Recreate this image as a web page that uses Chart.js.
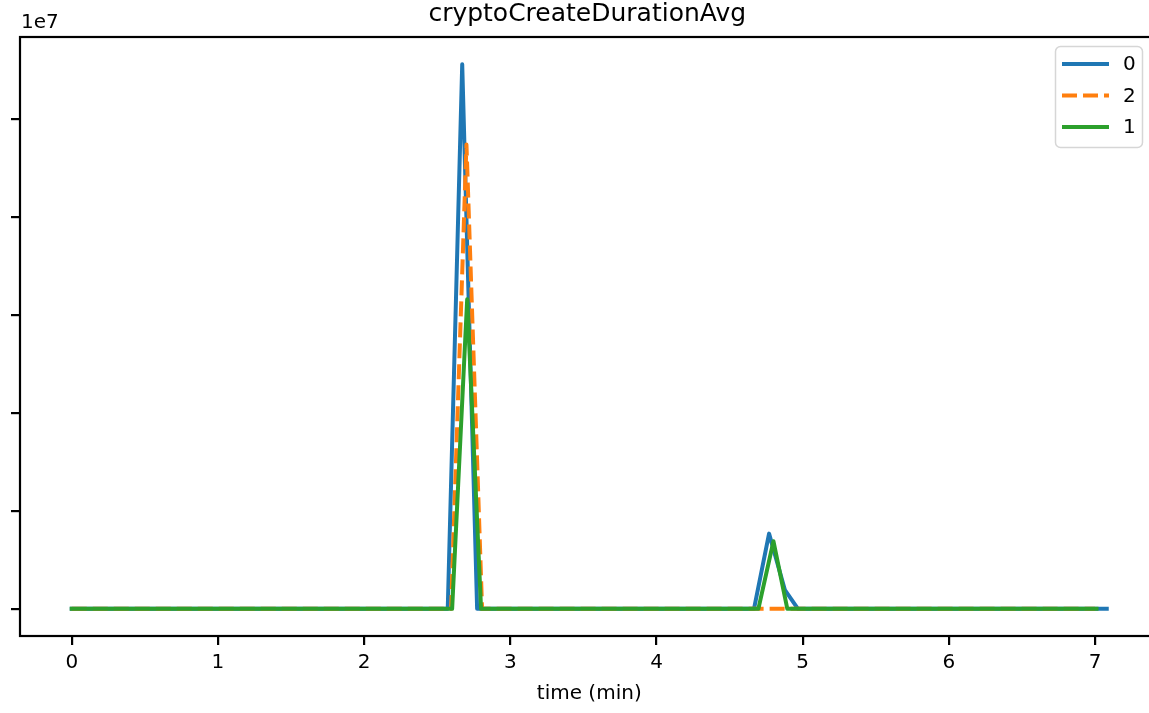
<!DOCTYPE html>
<html>
<head>
<meta charset="utf-8">
<script src="https://cdn.jsdelivr.net/npm/chart.js@4.4.1/dist/chart.umd.min.js"></script>
<style>
  html, body { margin: 0; padding: 0; background: #fff; overflow: hidden; }
  canvas { display: block; }
</style>
</head>
<body>
<canvas id="chart" width="1175" height="713"></canvas>
<script>
const chartTitle = 'cryptoCreateDurationAvg';
const xTitle = 'time (min)';
const offsetText = '1e7';
const xTicks = [0, 1, 2, 3, 4, 5, 6, 7];
const yTicks = [0, 1, 2, 3, 4, 5];

// time in minutes, values in units of 1e7
const seriesLabels = ['0', '2', '1'];
const seriesColors = ['#1f77b4', '#ff7f0e', '#2ca02c'];
const times0 = [0, 2.572, 2.671, 2.773, 4.667, 4.770, 4.879, 4.968, 7.08];
const values0 = [0, 0, 5.56, 0, 0, 0.768, 0.19, 0, 0];
const times2 = [0, 2.595, 2.700, 2.807, 7.0];
const values2 = [0, 0, 4.74, 0, 0];
const times1 = [0, 2.602, 2.705, 2.800, 4.697, 4.800, 4.895, 7.01];
const values1 = [0, 0, 3.16, 0, 0, 0.69, 0, 0];

const xMin = -0.354, xMax = 7.434;
const yMin = -0.2775, yMax = 5.8375;

const FONT = "'DejaVu Sans', sans-serif";

function pts(ts, vs) {
  return ts.map((t, i) => ({ x: t, y: vs[i] }));
}

// frame, offset text, title and legend in the matplotlib style
const extras = {
  id: 'extras',
  afterDatasetsDraw(chart) {
    const { ctx, chartArea: a } = chart;
    ctx.save();
    ctx.strokeStyle = '#000';
    ctx.lineWidth = 2.2;
    ctx.strokeRect(a.left, a.top, a.right - a.left, a.bottom - a.top);

    ctx.fillStyle = '#000';
    ctx.font = '20px ' + FONT;
    ctx.textAlign = 'left';
    ctx.textBaseline = 'alphabetic';
    ctx.fillText(offsetText, a.left + 1, 28);

    ctx.font = '25px ' + FONT;
    ctx.textAlign = 'center';
    ctx.fillText(chartTitle, (a.left + a.right) / 2 - 2, 21);

    // legend
    const lx = 1055.5, ly = 46.5, lw = 87, lh = 101;
    ctx.beginPath();
    ctx.roundRect(lx, ly, lw, lh, 5);
    ctx.fillStyle = 'rgba(255,255,255,0.8)';
    ctx.fill();
    ctx.strokeStyle = '#d6d6d6';
    ctx.lineWidth = 1.5;
    ctx.stroke();
    chart.data.datasets.forEach((ds, i) => {
      const y = 64 + i * 31.5;
      ctx.beginPath();
      ctx.strokeStyle = ds.borderColor;
      ctx.lineWidth = 4;
      ctx.setLineDash(ds.borderDash || []);
      ctx.lineCap = 'butt';
      ctx.moveTo(1062, y);
      ctx.lineTo(1109, y);
      ctx.stroke();
      ctx.setLineDash([]);
      ctx.fillStyle = '#000';
      ctx.font = '20px ' + FONT;
      ctx.textAlign = 'left';
      ctx.textBaseline = 'middle';
      ctx.fillText(ds.label, 1123, y + 1);
    });
    ctx.restore();
  }
};

const ctx = document.getElementById('chart').getContext('2d');
new Chart(ctx, {
  type: 'line',
  data: {
    datasets: [
      { label: seriesLabels[0], data: pts(times0, values0), borderColor: seriesColors[0], order: 3 },
      { label: seriesLabels[1], data: pts(times2, values2), borderColor: seriesColors[1], order: 2,
        borderDash: [15, 6], borderCapStyle: 'butt' },
      { label: seriesLabels[2], data: pts(times1, values1), borderColor: seriesColors[2], order: 1 }
    ]
  },
  options: {
    responsive: false,
    animation: false,
    devicePixelRatio: 1,
    layout: { padding: { top: 37, left: 11, right: 16.5, bottom: 7 } },
    elements: {
      point: { radius: 0 },
      line: { borderWidth: 4, tension: 0, borderJoinStyle: 'round', borderCapStyle: 'square', fill: false }
    },
    plugins: {
      legend: { display: false },
      title: { display: false },
      tooltip: { enabled: false }
    },
    scales: {
      x: {
        type: 'linear',
        min: xMin,
        max: xMax,
        afterBuildTicks: s => { s.ticks = xTicks.map(v => ({ value: v })); },
        grid: { drawOnChartArea: false, drawTicks: true, tickLength: 9, lineWidth: 2.2, color: '#000' },
        border: { display: false },
        ticks: { color: '#000', font: { family: FONT, size: 20 }, padding: 6, maxRotation: 0 },
        title: { display: true, text: xTitle, color: '#000', font: { family: FONT, size: 20 },
          padding: { top: 1, bottom: 0 } }
      },
      y: {
        type: 'linear',
        min: yMin,
        max: yMax,
        afterBuildTicks: s => { s.ticks = yTicks.map(v => ({ value: v })); },
        grid: { drawOnChartArea: false, drawTicks: true, tickLength: 9, lineWidth: 2.2, color: '#000' },
        border: { display: false },
        ticks: { display: false }
      }
    }
  },
  plugins: [extras]
});
</script>
</body>
</html>
